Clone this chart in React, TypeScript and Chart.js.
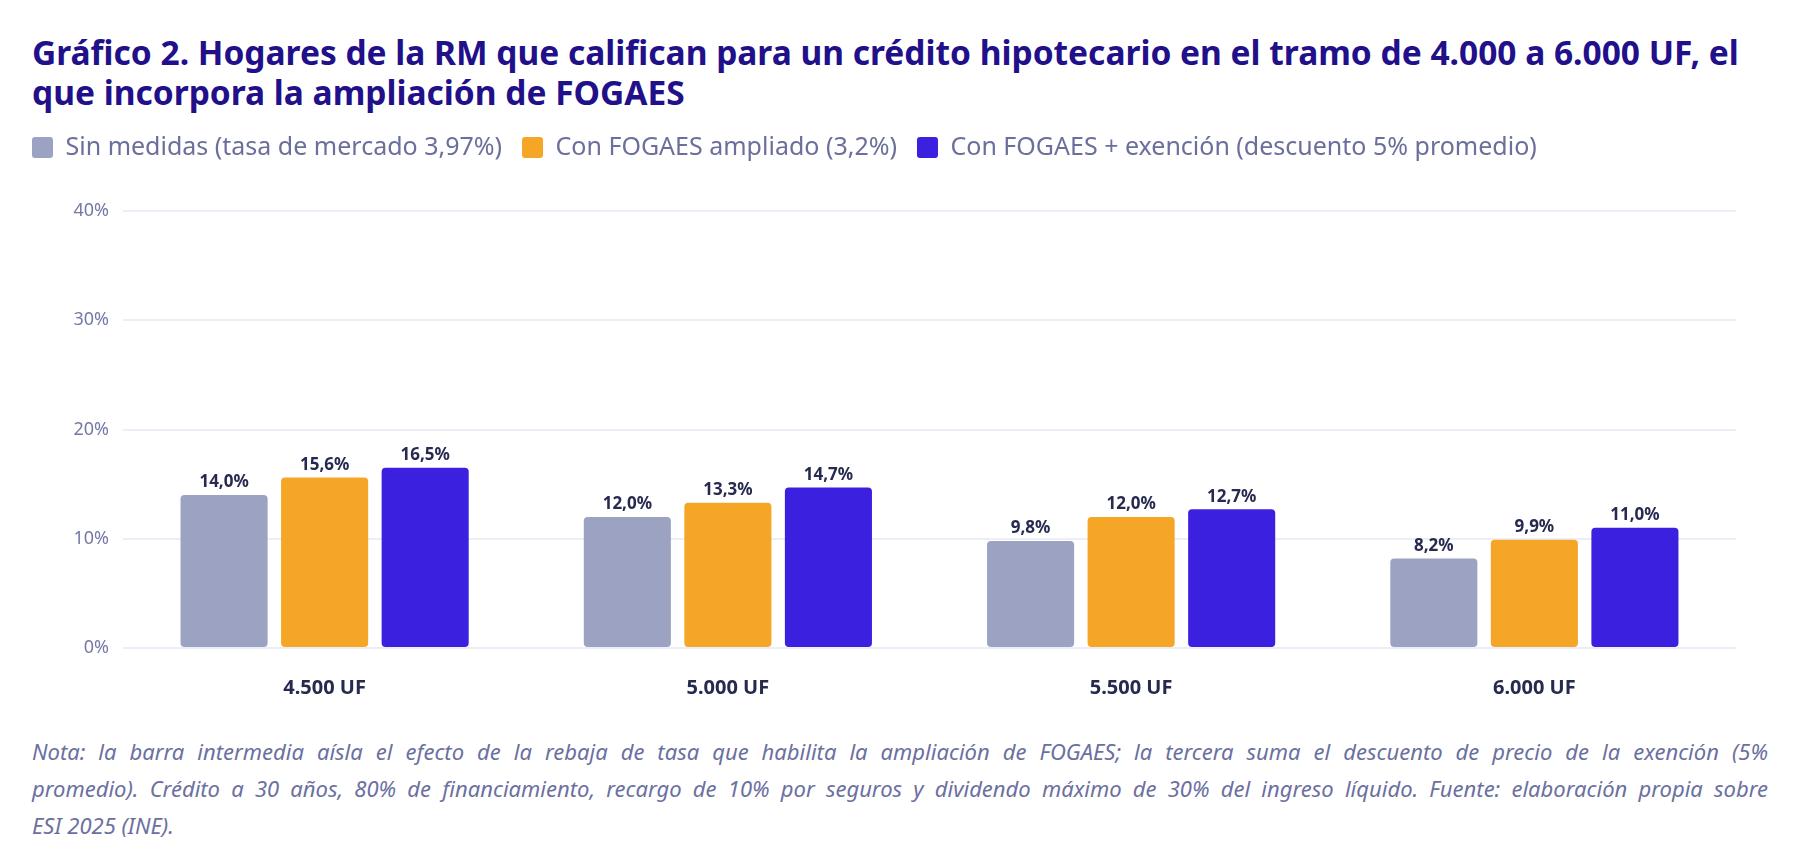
import { useEffect, useRef } from "react"
import { Chart, registerables } from "chart.js"

Chart.register(...registerables)

const categories = ["4.500 UF", "5.000 UF", "5.500 UF", "6.000 UF"]
const sinMedidas = [14.0, 12.0, 9.8, 8.2]
const conFogaes = [15.6, 13.3, 12.0, 9.9]
const conExencion = [16.5, 14.7, 12.7, 11.0]
const yTicks = [0, 10, 20, 30, 40]

const seriesNames = [
  "Sin medidas (tasa de mercado 3,97%)",
  "Con FOGAES ampliado (3,2%)",
  "Con FOGAES + exención (descuento 5% promedio)",
]

const noteLines = [
  "Nota: la barra intermedia aísla el efecto de la rebaja de tasa que habilita la ampliación de FOGAES; la tercera suma el descuento de precio de la exención (5%",
  "promedio). Crédito a 30 años, 80% de financiamiento, recargo de 10% por seguros y dividendo máximo de 30% del ingreso líquido. Fuente: elaboración propia sobre",
  "ESI 2025 (INE).",
]

const FONT = "'Noto Sans', 'Open Sans', sans-serif"

const fmt = (v: number) => v.toFixed(1).replace(".", ",") + "%"

// draws the value above each bar
const barLabels = {
  id: "barLabels",
  afterDatasetsDraw(chart: any) {
    const { ctx } = chart
    ctx.save()
    ctx.font = `bold 17px ${FONT}`
    ctx.fillStyle = "#262a4f"
    ctx.textAlign = "center"
    ctx.textBaseline = "bottom"
    chart.data.datasets.forEach((ds: any, i: number) => {
      const meta = chart.getDatasetMeta(i)
      meta.data.forEach((bar: any, j: number) => {
        ctx.fillText(fmt(ds.data[j]), bar.x, bar.y - 4)
      })
    })
    ctx.restore()
  },
}

// extra room between the legend and the plot
const legendGap = {
  id: "legendGap",
  beforeInit(chart: any) {
    const fit = chart.legend.fit
    chart.legend.fit = function () {
      fit.bind(this)()
      this.height += 41
    }
  },
}

export default function App() {
  const chartRef = useRef<HTMLCanvasElement | null>(null)
  const chartInstance = useRef<Chart | null>(null)

  useEffect(() => {
    if (!chartRef.current) return
    if (chartInstance.current) chartInstance.current.destroy()

    chartInstance.current = new Chart(chartRef.current, {
      type: "bar",
      data: {
        labels: categories,
        datasets: [
          { label: seriesNames[0], data: sinMedidas, backgroundColor: "#9ca2c1" },
          { label: seriesNames[1], data: conFogaes, backgroundColor: "#f5a626" },
          { label: seriesNames[2], data: conExencion, backgroundColor: "#3c20e0" },
        ].map((d) => ({
          ...d,
          borderWidth: 0,
          borderRadius: 4,
          borderSkipped: false,
          categoryPercentage: 0.748,
          barPercentage: 0.866,
        })),
      },
      options: {
        animation: false,
        responsive: true,
        maintainAspectRatio: false,
        layout: { padding: { top: 3, right: 32, bottom: 13, left: 0 } },
        plugins: {
          tooltip: { enabled: false },
          legend: {
            position: "top",
            align: "start",
            labels: {
              boxWidth: 21,
              boxHeight: 21,
              useBorderRadius: true,
              borderRadius: 3,
              padding: 20,
              color: "#6b6f9b",
              font: { family: FONT, size: 25 },
            },
          },
        },
        scales: {
          x: {
            grid: { display: false },
            border: { display: false },
            ticks: {
              color: "#262a4f",
              padding: 20,
              font: { family: FONT, size: 20, weight: "bold" },
            },
          },
          y: {
            min: 0,
            max: 40,
            afterFit: (axis: any) => {
              axis.width = 111
            },
            afterBuildTicks: (axis: any) => {
              axis.ticks = yTicks.map((v) => ({ value: v }))
            },
            grid: { color: "#eceef7", lineWidth: 2, drawTicks: false },
            border: { display: false },
            ticks: {
              color: "#7479a6",
              padding: 14,
              font: { family: FONT, size: 18 },
              callback: (v: any) => v + "%",
            },
          },
        },
      },
      plugins: [barLabels, legendGap],
    })

    return () => {
      if (chartInstance.current) {
        chartInstance.current.destroy()
        chartInstance.current = null
      }
    }
  }, [])

  return (
    <div style={{ padding: "24px 24px 0 24px", fontFamily: FONT }}>
      <h2
        style={{
          margin: 0,
          fontSize: 33.5,
          lineHeight: "40px",
          fontWeight: 700,
          color: "#21108a",
          whiteSpace: "nowrap",
        }}
      >
        Gráfico 2. Hogares de la RM que califican para un crédito hipotecario en el tramo de 4.000 a 6.000 UF, el
        <br />
        que incorpora la ampliación de FOGAES
      </h2>
      <div style={{ marginLeft: -20, width: 1756, height: 621, position: "relative" }}>
        <canvas ref={chartRef}></canvas>
      </div>
      <div
        style={{
          width: 1736,
          fontSize: 22,
          lineHeight: "37px",
          fontStyle: "italic",
          color: "#6b70a0",
        }}
      >
        {noteLines.map((line, i) => (
          <div
            key={i}
            style={{
              textAlign: "justify",
              textAlignLast: i < noteLines.length - 1 ? "justify" : "left",
              whiteSpace: "nowrap",
            }}
          >
            {line}
          </div>
        ))}
      </div>
    </div>
  )
}
